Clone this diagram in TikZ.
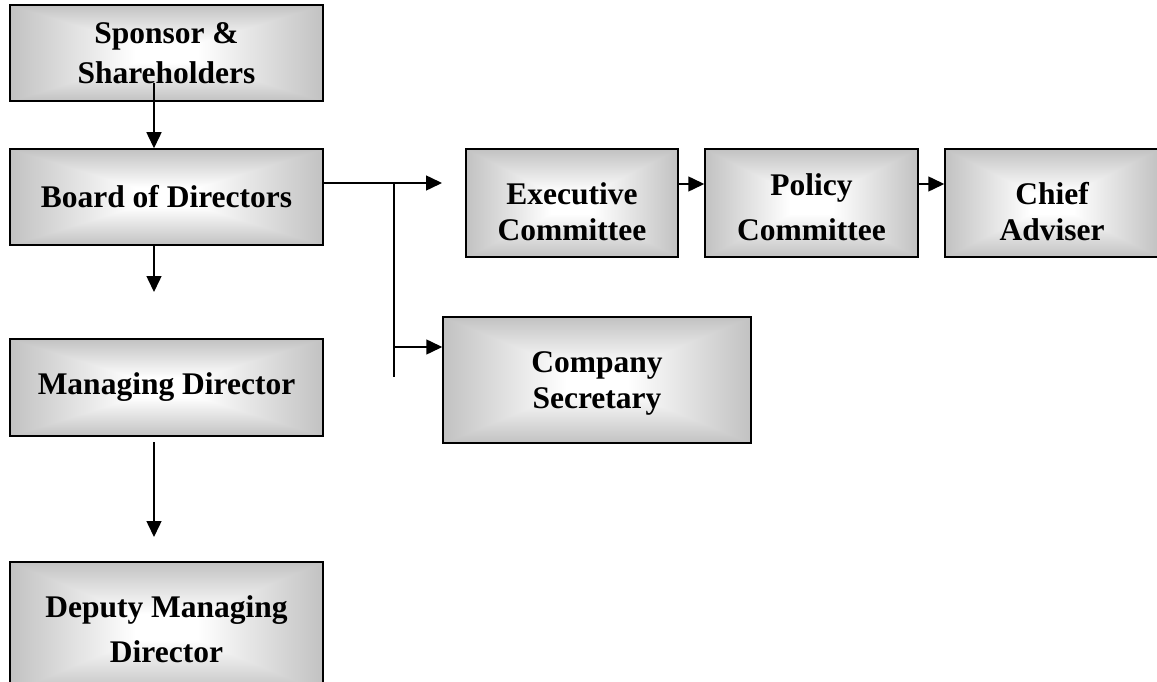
\documentclass[tikz,border=0pt]{standalone}
\usepackage{fontspec}
\setmainfont{Liberation Serif}
\usetikzlibrary{arrows.meta}
\pgfdeclarefunctionalshading{boxshade}{\pgfpointorigin}{\pgfpoint{100bp}{100bp}}{}{
 50 sub abs exch 50 sub abs
 2 copy gt {pop} {exch pop} ifelse
 50 div 0.1 sub 0.6 div
 dup 0 lt {pop 0} if
 dup 1 gt {pop 1} if
 0.36 mul 1 exch sub
 dup dup
}
\tikzset{
  orgbox/.style={draw=black, line width=1.5bp, shade, shading=boxshade, inner sep=0pt},
  boxtext/.style={align=center, inner sep=0pt,
    font={\fontsize{31.5bp}{36bp}\selectfont\bfseries}},
  conn/.style={line width=1.5bp, draw=black},
  arr/.style={conn, -{Triangle[length=16bp,width=15bp]}}
}
\begin{document}
\begin{tikzpicture}[x=1bp,y=-1bp]
\useasboundingbox (0,0) rectangle (1157,682);
% boxes
\node[orgbox, minimum width=313bp, minimum height=96bp] (spons) at (166.5,53) {};
\node[orgbox, minimum width=313bp, minimum height=96bp] (board) at (166.5,197) {};
\node[orgbox, minimum width=313bp, minimum height=97bp] (md) at (166.5,387.5) {};
\node[orgbox, minimum width=313bp, minimum height=130bp] (dmd) at (166.5,627) {};
\node[orgbox, minimum width=212bp, minimum height=108bp] (exec) at (572,203) {};
\node[orgbox, minimum width=213bp, minimum height=108bp] (policy) at (811.5,203) {};
\node[orgbox, minimum width=214bp, minimum height=108bp] (chief) at (1052,203) {};
\node[orgbox, minimum width=308bp, minimum height=126bp] (sec) at (597,380) {};
% texts
\node[boxtext] (spons-t) at (spons.center) {Sponsor \&\\[4bp]Shareholders};
\node[boxtext] (board-t) at (board.center) {Board of Directors};
\node[boxtext] (md-t) at (md.center) {Managing Director};
\node[boxtext, yshift=-2bp] (dmd-t) at (dmd.center) {Deputy Managing\\[9bp]Director};
\node[boxtext, yshift=-9bp] (exec-t) at (exec.center) {Executive\\Committee};
\node[boxtext, yshift=-4bp] (policy-t) at (policy.center) {Policy\\[9bp]Committee};
\node[boxtext, yshift=-9bp] (chief-t) at (chief.center) {Chief\\Adviser};
\node[boxtext, yshift=-3bp] (sec-t) at (sec.center) {Company\\Secretary};
% connector points
\coordinate (s1) at (154,83);
\coordinate (b1) at (154,292);
\coordinate (m0) at (154,442);
\coordinate (m1) at (154,537);
\coordinate (e1) at (442,183);
\coordinate (v0) at (394,183);
\coordinate (v1) at (394,377);
\coordinate (v2) at (394,347);
\coordinate (h1) at (0,184);
% connectors
\draw[arr] (s1) -- (s1 |- board.north);
\draw[arr] (board.south -| b1) -- (b1);
\draw[arr] (m0) -- (m1);
\draw[arr] (board.east |- e1) -- (e1);
\draw[conn] (v0) -- (v1);
\draw[arr] (v2) -- (v2 -| sec.west);
\draw[arr] (exec.east |- h1) -- (policy.west |- h1);
\draw[arr] (policy.east |- h1) -- (chief.west |- h1);
\end{tikzpicture}
\end{document}
